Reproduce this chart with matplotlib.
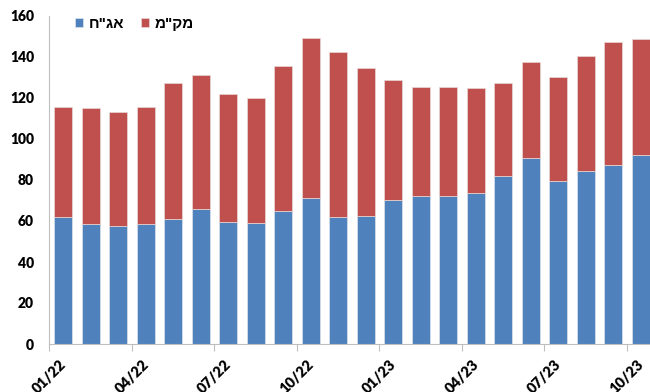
import matplotlib
matplotlib.use("Agg")
import matplotlib.pyplot as plt
import numpy as np

# Monthly values, 01/22 through 10/23
months = ["01/22", "02/22", "03/22", "04/22", "05/22", "06/22", "07/22", "08/22",
          "09/22", "10/22", "11/22", "12/22", "01/23", "02/23", "03/23", "04/23",
          "05/23", "06/23", "07/23", "08/23", "09/23", "10/23"]
bonds = [62.1, 58.7, 57.6, 58.4, 61.0, 65.9, 59.5, 59.2, 64.7, 71.4, 62.0,
         62.6, 70.1, 72.2, 72.2, 73.8, 82.0, 90.7, 79.5, 84.2, 87.5, 92.0]
totals = [115.5, 115.0, 113.3, 115.8, 127.2, 131.4, 122.1, 119.8, 135.4, 149.1, 142.4,
          134.5, 128.9, 125.2, 125.2, 124.9, 127.5, 137.7, 130.2, 140.3, 147.5, 148.6]
makam = [t - b for t, b in zip(totals, bonds)]

tick_labels = ["01/22", "04/22", "07/22", "10/22", "01/23", "04/23", "07/23", "10/23"]
yticks = [0, 20, 40, 60, 80, 100, 120, 140, 160]

# Hebrew legend names (stored in visual order, since text is drawn left to right)
label_bonds = 'אג"ח'[::-1]
label_makam = 'מק"מ'[::-1]

BLUE = "#4F81BD"
RED = "#C0504D"
GRID = "#BFBFBF"

fig = plt.figure(figsize=(6.5, 3.92), dpi=100)
ax = fig.add_axes([49.3 / 650, 1 - 344 / 392, (654.5 - 49.3) / 650, (344 - 16) / 392])

x = np.arange(len(months))
w = 0.65
b1 = ax.bar(x, bonds, width=w, color=BLUE, edgecolor="#DDE3EA", linewidth=0.5, zorder=2)
b2 = ax.bar(x, makam, width=w, bottom=bonds, color=RED, edgecolor="#E8D8D8",
            linewidth=0.5, zorder=2)

ax.set_xlim(-0.5, len(months) - 0.5)
ax.set_ylim(0, 160)

ax.set_yticks(yticks)
ax.set_yticklabels([str(v) for v in yticks], fontfamily="Lato", fontweight="heavy",
                   fontsize=10)
ax.tick_params(axis="y", length=0, pad=11)

# quarterly ticks sit on the category boundaries
tick_pos = [months.index(m) - 0.5 for m in tick_labels]
ax.set_xticks(tick_pos)
ax.set_xticklabels(tick_labels, rotation=45, ha="center", va="top",
                   fontfamily="Lato", fontweight="heavy", fontsize=10.5)
ax.tick_params(axis="x", length=5, width=0.8, color=GRID, pad=5)

for side in ("top", "right"):
    ax.spines[side].set_visible(False)
for side in ("left", "bottom"):
    ax.spines[side].set_color(GRID)
    ax.spines[side].set_linewidth(0.8)

ax.legend([b1, b2], [label_bonds, label_makam], ncol=2, frameon=False,
          loc="upper left", bbox_to_anchor=(75 / 650, 1 - 17 / 392),
          bbox_transform=fig.transFigure,
          handlelength=0.55, handleheight=0.55, handletextpad=0.35,
          columnspacing=1.1, borderaxespad=0, borderpad=0,
          prop={"family": ["Liberation Sans", "DejaVu Sans"],
                "weight": "bold", "size": 11})

fig.savefig("out.png", dpi=100)
